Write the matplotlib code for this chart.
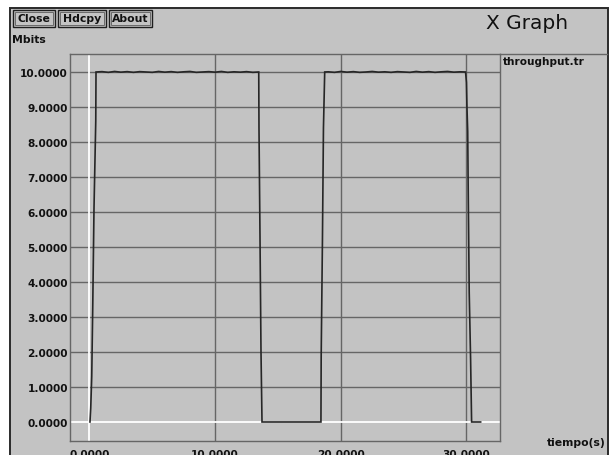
import matplotlib
matplotlib.use("Agg")
import numpy as np
import matplotlib.pyplot as plt
from matplotlib.patches import Rectangle
from matplotlib.lines import Line2D

W, H = 611, 456

# Throughput trace: time (s) and rate (Mbits)
rise1_t = [0.04, 0.10, 0.18, 0.26, 0.36, 0.50, 0.52]
rise1_v = [0.0, 0.4, 1.3, 3.3, 6.1, 8.6, 10.0]

plateau1_t = [1.0, 1.5, 2.0, 2.5, 3.0, 3.5, 4.0, 4.5, 5.0, 5.5, 6.0, 6.5, 7.0,
              7.5, 8.0, 8.5, 9.0, 9.5, 10.0, 10.5, 11.0, 11.5, 12.0, 12.5, 13.0]
plateau1_v = [10.01, 9.99, 10.015, 9.995, 10.01, 9.99, 10.01, 10.00, 9.99, 10.015,
              9.995, 10.01, 9.99, 10.005, 10.015, 9.99, 10.00, 10.01, 9.995, 10.015,
              9.99, 10.005, 9.995, 10.01, 9.99]

fall1_t = [13.47, 13.49, 13.57, 13.65, 13.73]
fall1_v = [10.0, 8.4, 5.3, 2.0, 0.0]

idle_t = [16.0, 18.42]
idle_v = [0.0, 0.0]

rise2_t = [18.44, 18.54, 18.62, 18.72]
rise2_v = [1.9, 5.2, 8.4, 10.0]

plateau2_t = [19.0, 19.5, 20.0, 20.5, 21.0, 21.5, 22.0, 22.5, 23.0, 23.5, 24.0,
              24.5, 25.0, 25.5, 26.0, 26.5, 27.0, 27.5, 28.0, 28.5, 29.0, 29.5]
plateau2_v = [10.005, 9.99, 10.015, 9.995, 10.01, 9.99, 10.00, 10.015, 9.995, 10.005,
              9.99, 10.01, 10.00, 9.99, 10.015, 9.995, 10.01, 9.99, 10.005, 10.015,
              9.995, 10.005]

fall2_t = [29.93, 30.00, 30.04, 30.10, 30.14, 30.22, 30.33, 30.41, 31.13]
fall2_v = [10.0, 9.7, 9.0, 8.3, 6.6, 3.7, 1.8, 0.0, 0.0]

x_ticks = [0, 10, 20, 30]
y_ticks = [0, 1, 2, 3, 4, 5, 6, 7, 8, 9, 10]

t = rise1_t + plateau1_t + fall1_t + idle_t + rise2_t + plateau2_t + fall2_t
v = rise1_v + plateau1_v + fall1_v + idle_v + rise2_v + plateau2_v + fall2_v

BG = "#c3c3c3"
GRID = "#666666"
FONT = "DejaVu Sans"
INK = "#111111"


def fx(px):
    return px / W


def fy(py):
    return 1 - py / H


fig = plt.figure(figsize=(W / 100, H / 100), dpi=100, facecolor="white")

# window frame
fig.patches.append(Rectangle((fx(10), -0.02), fx(608) - fx(10), fy(9) + 0.02,
                             transform=fig.transFigure, facecolor=BG,
                             edgecolor="#2a2a2a", lw=1.4, zorder=-10))

# buttons
for label, x0, x1 in [("Close", 13, 55), ("Hdcpy", 58, 106), ("About", 109, 152)]:
    fig.patches.append(Rectangle((fx(x0), fy(28)), fx(x1) - fx(x0), fy(11) - fy(28),
                                 transform=fig.transFigure, facecolor=BG,
                                 edgecolor="#1e1e1e", lw=1.0, zorder=-5))
    fig.patches.append(Rectangle((fx(x0 + 2), fy(26)), fx(x1 - 2) - fx(x0 + 2),
                                 fy(13) - fy(26), transform=fig.transFigure,
                                 facecolor="none", edgecolor="#6a6a6a", lw=0.7,
                                 zorder=-5))
    fig.text(fx((x0 + x1) / 2), fy(19.5), label, ha="center", va="center",
             fontsize=7.8, family=FONT, weight="bold", color=INK)

fig.text(fx(486), fy(24), "X Graph", ha="left", va="center", fontsize=14.5,
         family=FONT, color=INK)
fig.text(fx(12), fy(40), "Mbits", ha="left", va="center", fontsize=7.8,
         family=FONT, weight="bold", color=INK)
fig.text(fx(503), fy(57), "throughput.tr", ha="left", va="top", fontsize=7.6,
         family=FONT, weight="bold", color=INK)
fig.text(fx(606), fy(446), "tiempo(s)", ha="right", va="baseline", fontsize=7.8,
         family=FONT, weight="bold", color=INK)

# top border continues over the legend column
fig.lines.append(Line2D([fx(500), fx(607)], [fy(55), fy(55)],
                        transform=fig.transFigure, color=GRID, lw=1.0,
                        zorder=-4))

ax = fig.add_axes([fx(70), fy(442), fx(500) - fx(70), fy(55) - fy(442)])
ax.set_zorder(1)
ax.set_facecolor("none")
ax.set_xlim(-1.55, 32.67)
ax.set_ylim(-0.543, 10.514)

for xt in x_ticks:
    if xt != 0:
        ax.axvline(xt, color=GRID, lw=1.0, zorder=1)
for yt in y_ticks:
    if yt != 0:
        ax.axhline(yt, color=GRID, lw=1.0, zorder=1)
ax.axvline(0, color="white", lw=1.3, zorder=2)
ax.axhline(0, color="white", lw=1.3, zorder=2)

ax.plot(t, v, color="#262626", lw=1.2, zorder=3, solid_joinstyle="miter")

for sp in ax.spines.values():
    sp.set_color(GRID)
    sp.set_linewidth(1.0)

ax.set_xticks(x_ticks)
ax.set_xticklabels([f"{x:.4f}" for x in x_ticks])
ax.set_yticks(y_ticks)
ax.set_yticklabels([f"{y:.4f}" for y in y_ticks])
ax.tick_params(length=0, labelsize=7.6, colors=INK)
ax.tick_params(axis="y", pad=1.5)
ax.tick_params(axis="x", pad=5.5)
for lab in ax.get_xticklabels() + ax.get_yticklabels():
    lab.set_family(FONT)
    lab.set_weight("bold")

fig.savefig("out.png", dpi=100, facecolor="white")
